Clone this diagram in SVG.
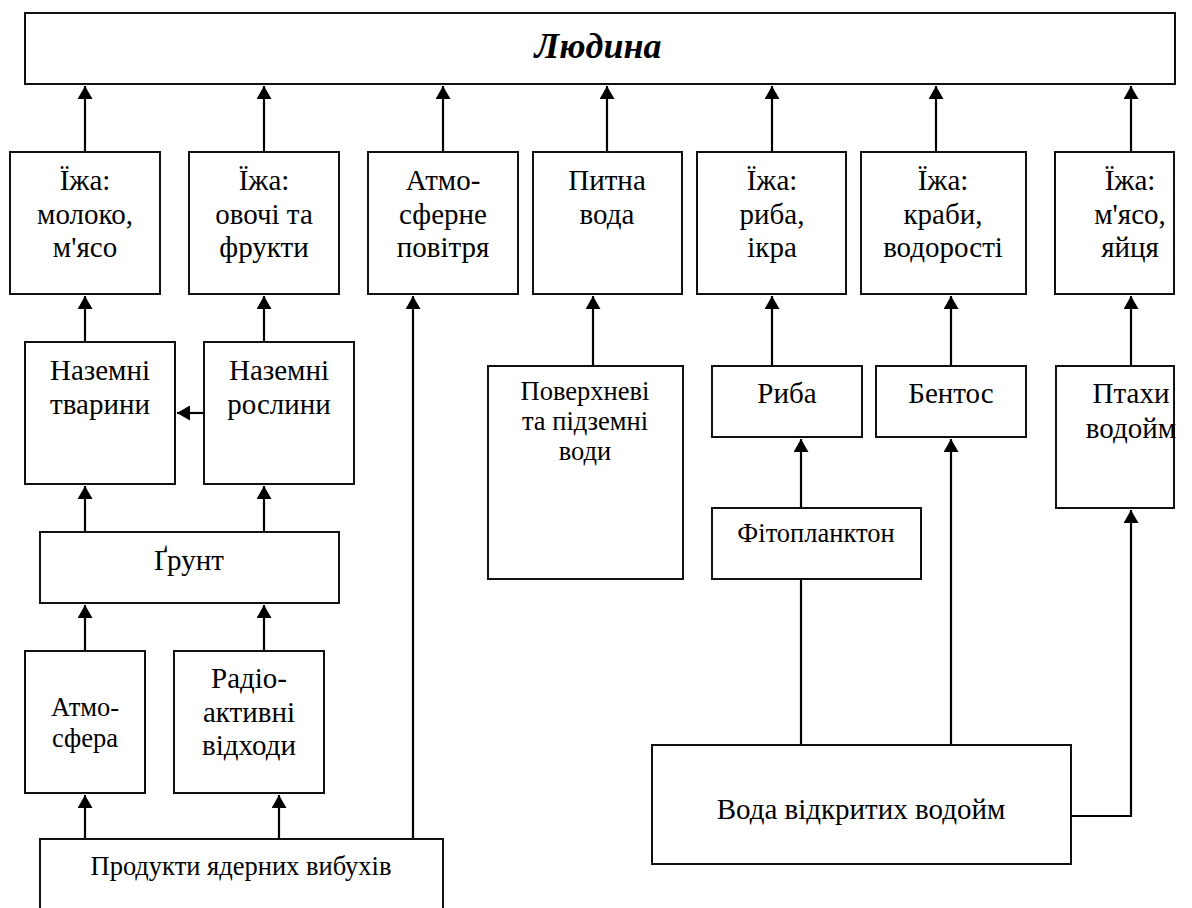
<svg xmlns="http://www.w3.org/2000/svg" width="1192" height="908" viewBox="0 0 1192 908">
  <style>
    .box { fill: #fff; stroke: #111; stroke-width: 2; }
    text { font-family: "Liberation Serif", "Times New Roman", serif; fill: #000; text-anchor: middle; }
    .t { font-size: 29px; }
    .s { font-size: 26.5px; }
    .title { font-size: 36px; font-weight: bold; font-style: italic; }
    .link { fill: none; stroke: #000; stroke-width: 2.2; }
  </style>
  <defs>
    <marker id="arrow" markerUnits="userSpaceOnUse" viewBox="0 0 13 15" markerWidth="13" markerHeight="15" refX="13" refY="7.5" orient="auto">
      <path d="M0,0 L13,7.5 L0,15 z" fill="#000"/>
    </marker>
  </defs>

  <rect width="1192" height="908" fill="#fff"/>

  <!-- connectors -->
  <g id="connectors" class="link">
    <!-- first row into the top box -->
    <path d="M85,152 V86" marker-end="url(#arrow)"/>
    <path d="M264,152 V86" marker-end="url(#arrow)"/>
    <path d="M443,152 V86" marker-end="url(#arrow)"/>
    <path d="M607,152 V86" marker-end="url(#arrow)"/>
    <path d="M772,152 V86" marker-end="url(#arrow)"/>
    <path d="M936,152 V86" marker-end="url(#arrow)"/>
    <path d="M1131,152 V86" marker-end="url(#arrow)"/>

    <!-- land chain -->
    <path d="M85,342 V296" marker-end="url(#arrow)"/>
    <path d="M264,342 V296" marker-end="url(#arrow)"/>
    <path d="M204,413 H177" marker-end="url(#arrow)"/>
    <path d="M85,532 V486" marker-end="url(#arrow)"/>
    <path d="M264,532 V486" marker-end="url(#arrow)"/>
    <path d="M85,651 V605" marker-end="url(#arrow)"/>
    <path d="M264,651 V605" marker-end="url(#arrow)"/>
    <path d="M85,839 V795" marker-end="url(#arrow)"/>
    <path d="M279,839 V795" marker-end="url(#arrow)"/>
    <path d="M413,839 V296" marker-end="url(#arrow)"/>

    <!-- water chain -->
    <path d="M593,366 V296" marker-end="url(#arrow)"/>
    <path d="M772,366 V296" marker-end="url(#arrow)"/>
    <path d="M951,366 V296" marker-end="url(#arrow)"/>
    <path d="M1131,366 V296" marker-end="url(#arrow)"/>
    <path d="M801,508 V439" marker-end="url(#arrow)"/>
    <path d="M801,745 V579"/>
    <path d="M951,745 V439" marker-end="url(#arrow)"/>
    <path d="M1071,816 H1131 V510" marker-end="url(#arrow)"/>
  </g>

  <!-- top -->
  <g id="lyudyna">
    <rect class="box" x="25" y="13" width="1150" height="71"/>
    <text class="title" x="598" y="58">Людина</text>
  </g>

  <!-- first row -->
  <g id="food-milk">
    <rect class="box" x="10" y="152" width="150" height="142"/>
    <text class="t" x="85" y="190">Їжа:</text>
    <text class="t" x="85" y="224">молоко,</text>
    <text class="t" x="85" y="257">м'ясо</text>
  </g>
  <g id="food-veg">
    <rect class="box" x="189" y="152" width="150" height="142"/>
    <text class="t" x="264" y="190">Їжа:</text>
    <text class="t" x="264" y="224">овочі та</text>
    <text class="t" x="264" y="257">фрукти</text>
  </g>
  <g id="air">
    <rect class="box" x="368" y="152" width="150" height="142"/>
    <text class="t" x="443" y="190">Атмо-</text>
    <text class="t" x="443" y="224">сферне</text>
    <text class="t" x="443" y="257">повітря</text>
  </g>
  <g id="drinking-water">
    <rect class="box" x="533" y="152" width="149" height="142"/>
    <text class="t" x="607" y="190">Питна</text>
    <text class="t" x="607" y="224">вода</text>
  </g>
  <g id="food-fish">
    <rect class="box" x="697" y="152" width="149" height="142"/>
    <text class="t" x="772" y="190">Їжа:</text>
    <text class="t" x="772" y="224">риба,</text>
    <text class="t" x="772" y="257">ікра</text>
  </g>
  <g id="food-crabs">
    <rect class="box" x="861" y="152" width="165" height="142"/>
    <text class="t" x="943" y="190">Їжа:</text>
    <text class="t" x="943" y="224">краби,</text>
    <text class="t" x="943" y="257">водорості</text>
  </g>
  <g id="food-meat">
    <rect class="box" x="1055" y="152" width="119" height="142"/>
    <text class="t" x="1130" y="190">Їжа:</text>
    <text class="t" x="1130" y="224">м'ясо,</text>
    <text class="t" x="1130" y="257">яйця</text>
  </g>

  <!-- land chain -->
  <g id="land-animals">
    <rect class="box" x="25" y="342" width="150" height="142"/>
    <text class="t" x="100" y="380">Наземні</text>
    <text class="t" x="100" y="414">тварини</text>
  </g>
  <g id="land-plants">
    <rect class="box" x="204" y="342" width="150" height="142"/>
    <text class="t" x="279" y="380">Наземні</text>
    <text class="t" x="279" y="414">рослини</text>
  </g>
  <g id="soil">
    <rect class="box" x="40" y="532" width="299" height="71"/>
    <text class="t" x="189" y="570">Ґрунт</text>
  </g>
  <g id="atmosphere">
    <rect class="box" x="25" y="651" width="120" height="142"/>
    <text class="s" x="85" y="716">Атмо-</text>
    <text class="s" x="85" y="747">сфера</text>
  </g>
  <g id="radioactive-waste">
    <rect class="box" x="174" y="651" width="150" height="142"/>
    <text class="t" x="249" y="688">Радіо-</text>
    <text class="t" x="249" y="722">активні</text>
    <text class="t" x="249" y="755">відходи</text>
  </g>
  <g id="nuclear-products">
    <path class="box" d="M40,912 V839 H443 V912"/>
    <text class="s" x="241" y="875">Продукти ядерних вибухів</text>
  </g>

  <!-- water chain -->
  <g id="surface-water">
    <rect class="box" x="488" y="366" width="195" height="213"/>
    <text class="s" x="585" y="400">Поверхневі</text>
    <text class="s" x="585" y="430">та підземні</text>
    <text class="s" x="585" y="460">води</text>
  </g>
  <g id="fish">
    <rect class="box" x="712" y="366" width="150" height="71"/>
    <text class="t" x="787" y="403">Риба</text>
  </g>
  <g id="benthos">
    <rect class="box" x="876" y="366" width="150" height="71"/>
    <text class="t" x="951" y="403">Бентос</text>
  </g>
  <g id="water-birds">
    <rect class="box" x="1056" y="366" width="118" height="142"/>
    <text class="t" x="1131" y="403">Птахи</text>
    <text class="t" x="1131" y="438">водойм</text>
  </g>
  <g id="phytoplankton">
    <rect class="box" x="712" y="508" width="209" height="71"/>
    <text class="s" x="816" y="542">Фітопланктон</text>
  </g>
  <g id="open-water">
    <rect class="box" x="652" y="745" width="419" height="119"/>
    <text class="t" x="861" y="819">Вода відкритих водойм</text>
  </g>
</svg>
